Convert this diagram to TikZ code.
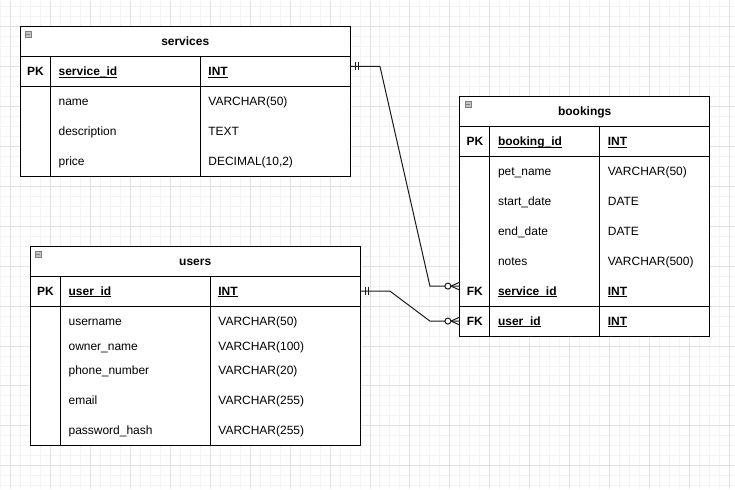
\documentclass[tikz,border=0pt]{standalone}
\usepackage{fontspec}
\setmainfont{Liberation Sans}
\usepackage{xcolor}
\definecolor{gridmajor}{HTML}{E2E2E2}
\definecolor{gridminor}{HTML}{F3F3F3}
\definecolor{iconfill}{HTML}{C4C4C4}
\definecolor{icondraw}{HTML}{808080}
\definecolor{relline}{HTML}{1A1A1A}
\newcommand{\keyname}[1]{\underline{\smash{#1}}}

\begin{document}
\fontsize{12pt}{14pt}\selectfont
\begin{tikzpicture}[x=1pt,y=-1pt]
	
	\tikzstyle{minorgrid} = [gridminor,line width=1pt]
	\tikzstyle{majorgrid} = [gridmajor,line width=1pt]
	\tikzstyle{tbox} = [draw,fill=white,line width=1pt]
	\tikzstyle{tline} = [line width=1pt]
	\tikzstyle{ttitle} = [anchor=base,inner sep=0pt,font=\bfseries]
	\tikzstyle{tkey} = [anchor=base,inner sep=0pt,font=\bfseries]
	\tikzstyle{tfld} = [anchor=base west,inner sep=0pt]
	\tikzstyle{tkfld} = [tfld,font=\bfseries]
	\tikzstyle{ticon} = [draw=icondraw,fill=iconfill,minimum size=6pt,inner sep=0pt,
		path picture={\draw[line width=1pt] ([xshift=-2pt]path picture bounding box.center) -- ([xshift=2pt]path picture bounding box.center);}]
	\tikzstyle{rel} = [relline,line width=1pt]
	
	% background grid
	\fill[white] (0,0) rectangle (735,489);
	\foreach \x in {0,10,...,730} \draw[minorgrid] (\x,0) -- (\x,489);
	\foreach \y in {6,16,...,486} \draw[minorgrid] (0,\y) -- (735,\y);
	\foreach \x in {10,50,...,730} \draw[majorgrid] (\x,0) -- (\x,489);
	\foreach \y in {26,66,...,466} \draw[majorgrid] (0,\y) -- (735,\y);
	
	% services
	\draw[tbox] (20,26) rectangle (350,176);
	\draw[tline] (20,56) -- (350,56);
	\draw[tline] (20,86) -- (350,86);
	\draw[tline] (50,56) -- (50,176);
	\draw[tline] (200,56) -- (200,176);
	\node[ticon] (svc-icon) at (28,34) {};
	\node[ttitle] (svc) at (185,45) {services};
	\node[tkey] (svc-pk) at (35,75) {PK};
	\node[tkfld] (svc-id) at (58,75) {\keyname{service\_id}};
	\node[tkfld] (svc-id-t) at (208,75) {\keyname{INT}};
	\node[tfld] (svc-name) at (58,105) {name};
	\node[tfld] (svc-name-t) at (208,105) {VARCHAR(50)};
	\node[tfld] (svc-desc) at (58,135) {description};
	\node[tfld] (svc-desc-t) at (208,135) {TEXT};
	\node[tfld] (svc-price) at (58,165) {price};
	\node[tfld] (svc-price-t) at (208,165) {DECIMAL(10,2)};
	
	% bookings
	\draw[tbox] (460,96) rectangle (710,336);
	\draw[tline] (460,126) -- (710,126);
	\draw[tline] (460,156) -- (710,156);
	\draw[tline] (460,306) -- (710,306);
	\draw[tline] (490,126) -- (490,336);
	\draw[tline] (600,126) -- (600,336);
	\node[ticon] (bk-icon) at (468,104) {};
	\node[ttitle] (bk) at (585,115) {bookings};
	\node[tkey] (bk-pk) at (475,145) {PK};
	\node[tkfld] (bk-id) at (498,145) {\keyname{booking\_id}};
	\node[tkfld] (bk-id-t) at (608,145) {\keyname{INT}};
	\node[tfld] (bk-pet) at (498,175) {pet\_name};
	\node[tfld] (bk-pet-t) at (608,175) {VARCHAR(50)};
	\node[tfld] (bk-start) at (498,205) {start\_date};
	\node[tfld] (bk-start-t) at (608,205) {DATE};
	\node[tfld] (bk-end) at (498,235) {end\_date};
	\node[tfld] (bk-end-t) at (608,235) {DATE};
	\node[tfld] (bk-notes) at (498,265) {notes};
	\node[tfld] (bk-notes-t) at (608,265) {VARCHAR(500)};
	\node[tkey] (bk-fk1) at (475,295) {FK};
	\node[tkfld] (bk-svc) at (498,295) {\keyname{service\_id}};
	\node[tkfld] (bk-svc-t) at (608,295) {\keyname{INT}};
	\node[tkey] (bk-fk2) at (475,325) {FK};
	\node[tkfld] (bk-usr) at (498,325) {\keyname{user\_id}};
	\node[tkfld] (bk-usr-t) at (608,325) {\keyname{INT}};
	
	% users
	\draw[tbox] (30,246) rectangle (360,446);
	\draw[tline] (30,276) -- (360,276);
	\draw[tline] (30,306) -- (360,306);
	\draw[tline] (60,276) -- (60,446);
	\draw[tline] (210,276) -- (210,446);
	\node[ticon] (usr-icon) at (38,254) {};
	\node[ttitle] (usr) at (195,265) {users};
	\node[tkey] (usr-pk) at (45,295) {PK};
	\node[tkfld] (usr-id) at (68,295) {\keyname{user\_id}};
	\node[tkfld] (usr-id-t) at (218,295) {\keyname{INT}};
	\node[tfld] (usr-login) at (68,325) {username};
	\node[tfld] (usr-login-t) at (218,325) {VARCHAR(50)};
	\node[tfld] (usr-owner) at (68,350) {owner\_name};
	\node[tfld] (usr-owner-t) at (218,350) {VARCHAR(100)};
	\node[tfld] (usr-phone) at (68,375) {phone\_number};
	\node[tfld] (usr-phone-t) at (218,375) {VARCHAR(20)};
	\node[tfld] (usr-mail) at (68,405) {email};
	\node[tfld] (usr-mail-t) at (218,405) {VARCHAR(255)};
	\node[tfld] (usr-pass) at (68,435) {password\_hash};
	\node[tfld] (usr-pass-t) at (218,435) {VARCHAR(255)};
	
	% relations
	\coordinate (svc-out) at (350,66);
	\coordinate (svc-bend) at (380,66);
	\coordinate (bk-svc-bend) at (430,286);
	\coordinate (bk-svc-in) at (460,286);
	\coordinate (usr-out) at (360,291);
	\coordinate (usr-bend) at (390,291);
	\coordinate (bk-usr-bend) at (430,321);
	\coordinate (bk-usr-in) at (460,321);
	
	\draw[rel] (svc-out) -- (svc-bend) -- (bk-svc-bend) -- (bk-svc-in);
	\draw[rel] (usr-out) -- (usr-bend) -- (bk-usr-bend) -- (bk-usr-in);
	
	\draw[rel] (svc-out) ++(5,-4) -- ++(0,8) ++(3,0) -- ++(0,-8);
	\draw[rel] (usr-out) ++(5,-4) -- ++(0,8) ++(3,0) -- ++(0,-8);
	
	\draw[rel] (bk-svc-in) ++(-9,0) -- ++(9,-4) ++(0,8) -- ++(-9,-4);
	\draw[rel] (bk-usr-in) ++(-9,0) -- ++(9,-4) ++(0,8) -- ++(-9,-4);
	\draw[rel,fill=white] (bk-svc-in) ++(-12,0) circle (3);
	\draw[rel,fill=white] (bk-usr-in) ++(-12,0) circle (3);

\end{tikzpicture}
\end{document}
